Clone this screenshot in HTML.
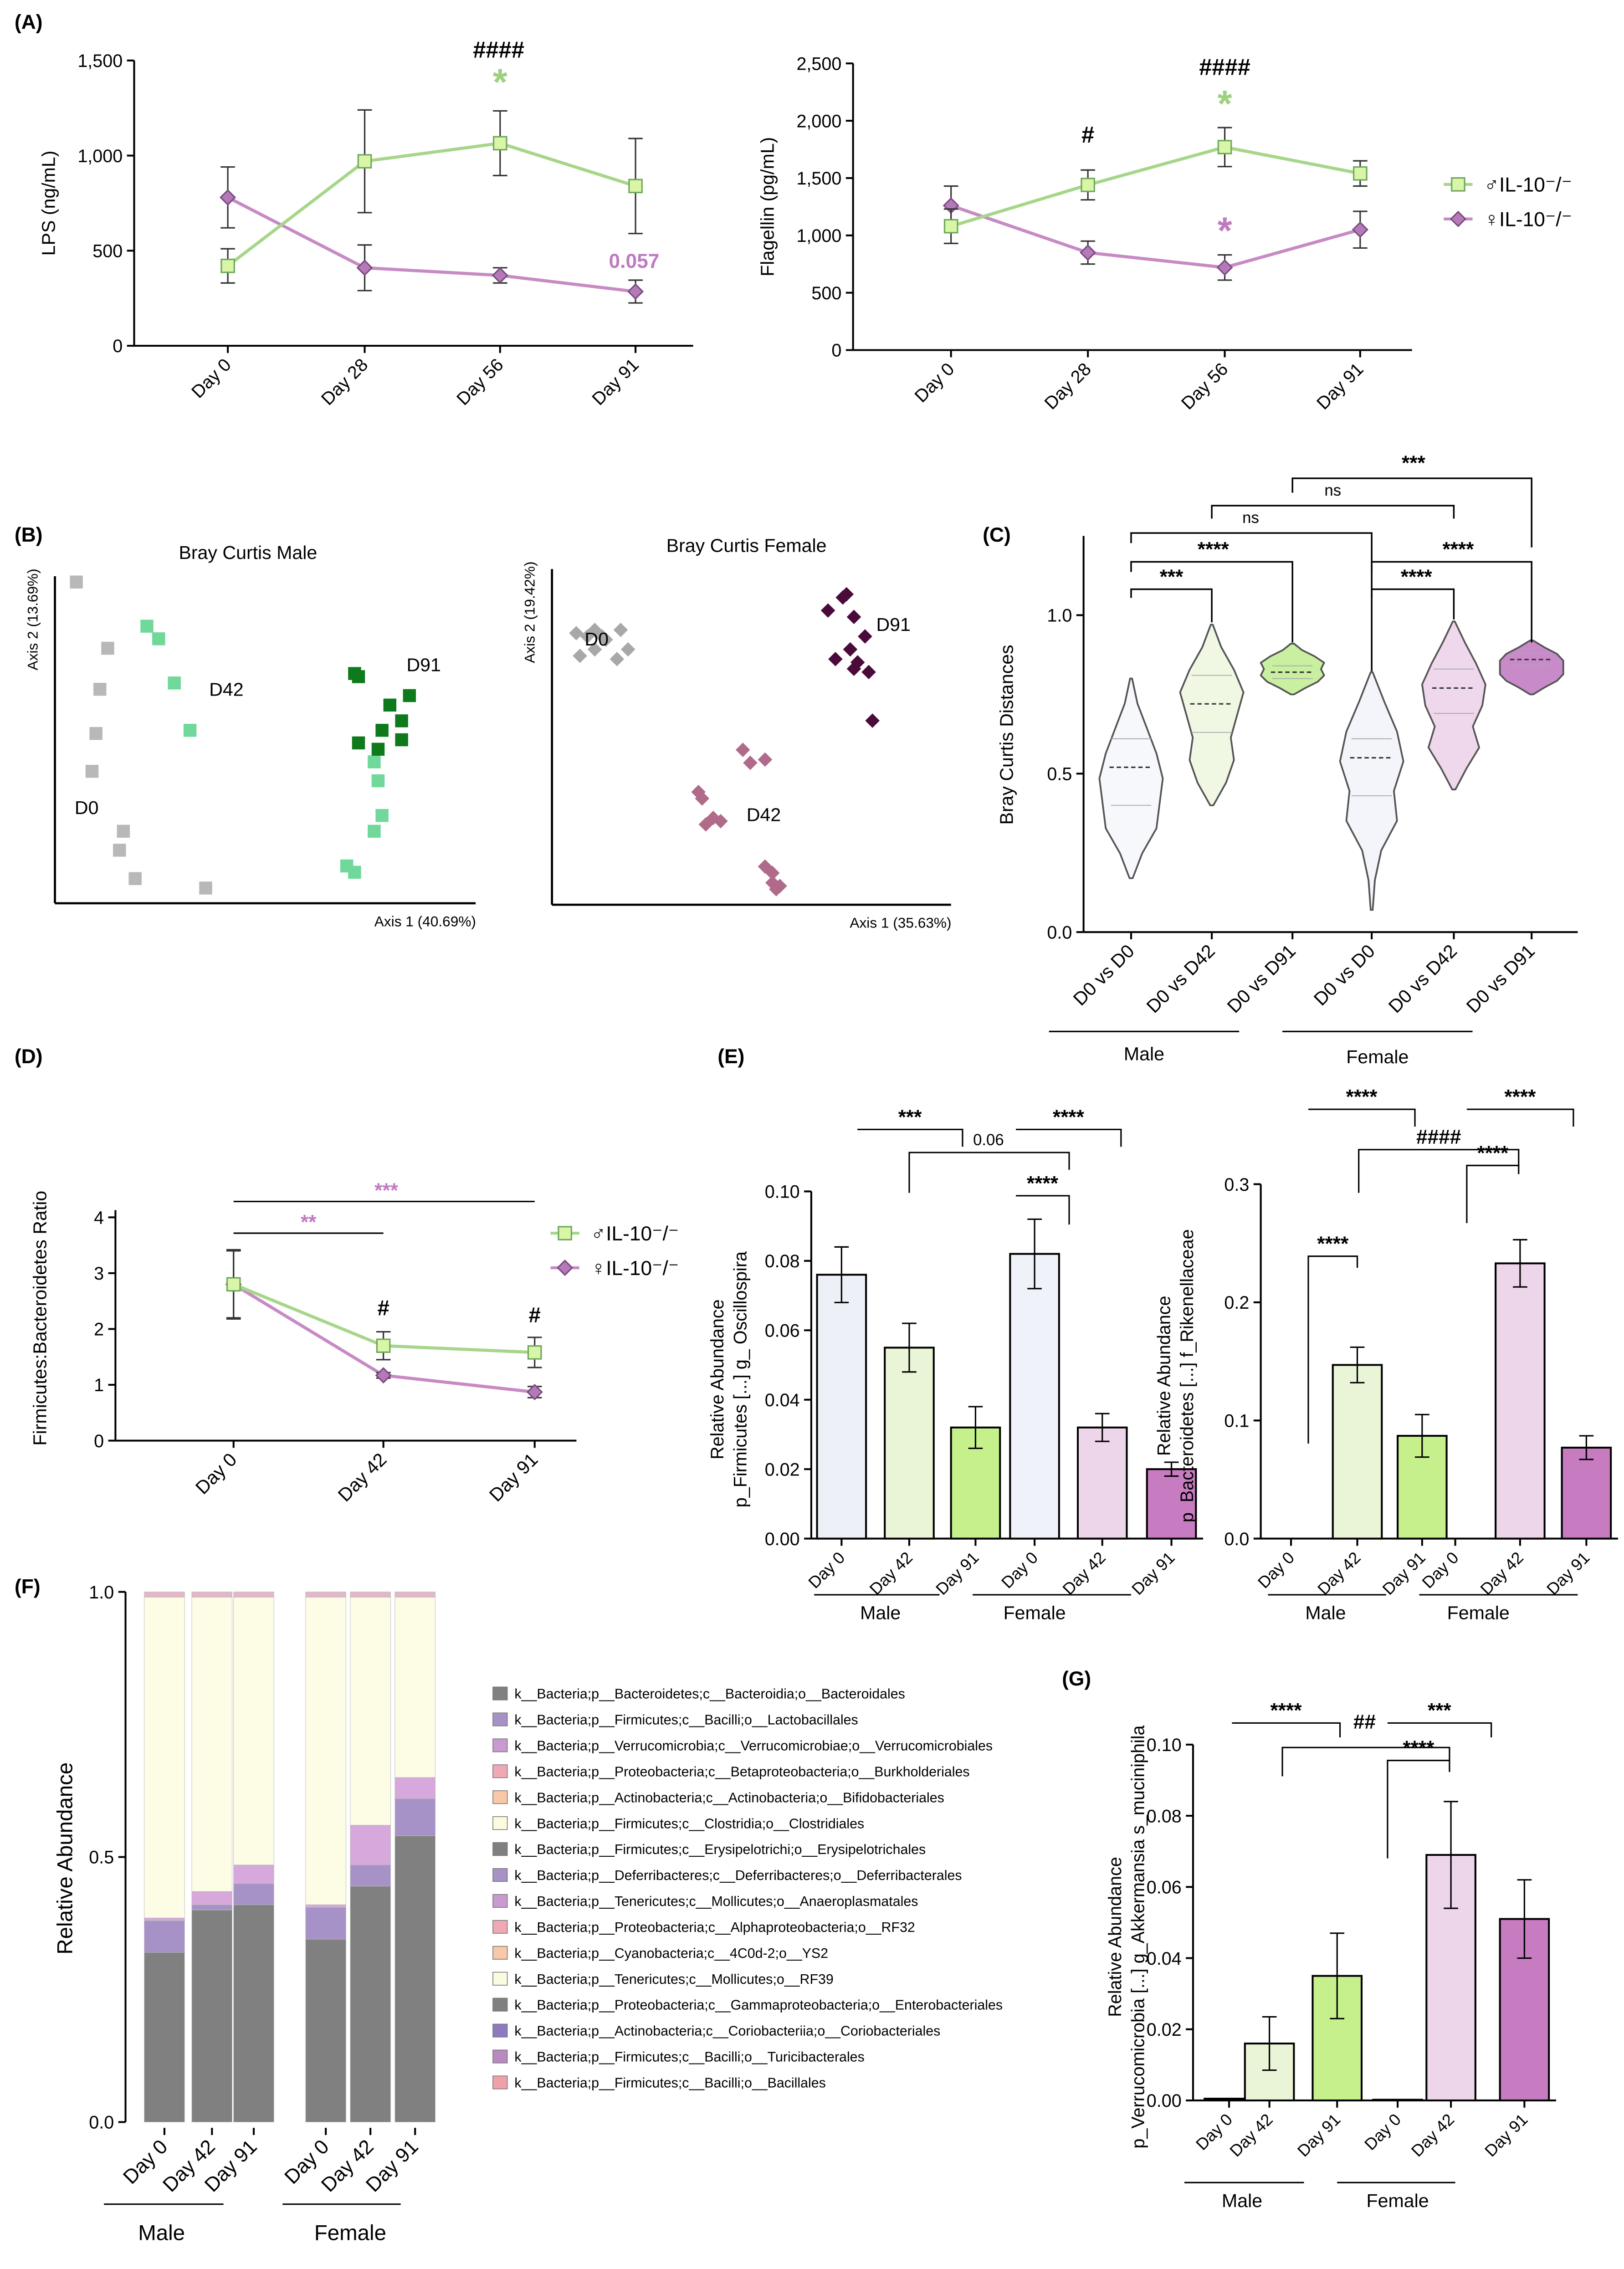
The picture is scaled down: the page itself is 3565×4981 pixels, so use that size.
<!DOCTYPE html>
<html><head><meta charset="utf-8"><style>
html,body{margin:0;padding:0;background:#fff}
svg{display:block;font-family:"Liberation Sans",Arial,sans-serif}
</style></head><body>
<svg id="fig" width="3565" height="4981" viewBox="0 0 1127 1575" xmlns="http://www.w3.org/2000/svg"></svg>
<script>
// ---------- DATA ----------
const days4 = ["Day 0","Day 28","Day 56","Day 91"];
const lpsMale = [420,970,1065,840];
const lpsMaleErr = [90,270,170,250];
const lpsFemale = [780,410,370,285];
const lpsFemaleErr = [160,120,40,60];
const lpsTicks = [0,500,1000,1500];
const flaMale = [1080,1440,1770,1540];
const flaMaleErr = [150,130,170,110];
const flaFemale = [1260,850,720,1050];
const flaFemaleErr = [170,100,110,160];
const flaTicks = [0,500,1000,1500,2000,2500];

const violinCats = ["D0 vs D0","D0 vs D42","D0 vs D91","D0 vs D0","D0 vs D42","D0 vs D91"];
const violinMin = [0.17,0.40,0.75,0.07,0.45,0.75];
const violinMax = [0.80,0.97,0.91,0.82,0.98,0.92];
const violinMedian = [0.52,0.72,0.82,0.55,0.77,0.86];
const violinQ1 = [0.40,0.63,0.80,0.43,0.69,0.84];
const violinQ3 = [0.61,0.81,0.84,0.61,0.83,0.88];
const violinWidth = [
 [0.05,0.35,0.8,0.9,1,0.8,0.5,0.2,0.03],
 [0.05,0.45,0.7,0.6,0.8,1,0.7,0.3,0.03],
 [0.05,0.4,0.8,1,0.9,1,0.7,0.3,0.05],
 [0.03,0.1,0.3,0.8,0.7,1,0.8,0.4,0.03],
 [0.05,0.4,0.8,0.6,0.9,1,0.7,0.35,0.03],
 [0.05,0.4,0.8,1,1,1,0.8,0.4,0.05]];
const violinTicks = [0.0,0.5,1.0];

const days3 = ["Day 0","Day 42","Day 91"];
const fbMale = [2.8,1.7,1.58];
const fbMaleErr = [0.62,0.25,0.27];
const fbFemale = [2.8,1.17,0.87];
const fbFemaleErr = [0.6,0.05,0.1];
const fbTicks = [0,1,2,3,4];

const barCats = ["Day 0","Day 42","Day 91","Day 0","Day 42","Day 91"];
const oscVals = [0.076,0.055,0.032,0.082,0.032,0.020];
const oscErr = [0.008,0.007,0.006,0.010,0.004,0.002];
const oscTicks = [0,0.02,0.04,0.06,0.08,0.10];
const rikVals = [0,0.147,0.087,0,0.233,0.077];
const rikErr = [0,0.015,0.018,0,0.02,0.01];
const rikTicks = [0,0.1,0.2,0.3];
const akkVals = [0.0005,0.016,0.035,0.0002,0.069,0.051];
const akkErr = [0,0.0075,0.012,0,0.015,0.011];
const akkTicks = [0,0.02,0.04,0.06,0.08,0.10];

const stackCats = ["Day 0","Day 42","Day 91","Day 0","Day 42","Day 91"];
const stBacteroidales = [0.32,0.40,0.41,0.345,0.445,0.54];
const stLactobacillales = [0.06,0.01,0.04,0.06,0.04,0.07];
const stVerruco = [0.005,0.025,0.035,0.005,0.075,0.04];
const stClostridiales = [0.605,0.555,0.505,0.58,0.43,0.34];
const stOther = [0.01,0.01,0.01,0.01,0.01,0.01];
const legendTaxa = [
"k__Bacteria;p__Bacteroidetes;c__Bacteroidia;o__Bacteroidales",
"k__Bacteria;p__Firmicutes;c__Bacilli;o__Lactobacillales",
"k__Bacteria;p__Verrucomicrobia;c__Verrucomicrobiae;o__Verrucomicrobiales",
"k__Bacteria;p__Proteobacteria;c__Betaproteobacteria;o__Burkholderiales",
"k__Bacteria;p__Actinobacteria;c__Actinobacteria;o__Bifidobacteriales",
"k__Bacteria;p__Firmicutes;c__Clostridia;o__Clostridiales",
"k__Bacteria;p__Firmicutes;c__Erysipelotrichi;o__Erysipelotrichales",
"k__Bacteria;p__Deferribacteres;c__Deferribacteres;o__Deferribacterales",
"k__Bacteria;p__Tenericutes;c__Mollicutes;o__Anaeroplasmatales",
"k__Bacteria;p__Proteobacteria;c__Alphaproteobacteria;o__RF32",
"k__Bacteria;p__Cyanobacteria;c__4C0d-2;o__YS2",
"k__Bacteria;p__Tenericutes;c__Mollicutes;o__RF39",
"k__Bacteria;p__Proteobacteria;c__Gammaproteobacteria;o__Enterobacteriales",
"k__Bacteria;p__Actinobacteria;c__Coriobacteriia;o__Coriobacteriales",
"k__Bacteria;p__Firmicutes;c__Bacilli;o__Turicibacterales",
"k__Bacteria;p__Firmicutes;c__Bacilli;o__Bacillales"];
const legendColors = ["#808080","#a792c8","#c99ad0","#f0a8b4","#f8c8a8","#fbfbe0","#808080","#a792c8","#c99ad0","#f0a8b4","#f8c8a8","#fbfbe0","#808080","#8f7ac0","#b88ac0","#f0a0a8"];

// PCoA points (axis units 0-100)
const maleD0X = [4,12,10,9,8,16,15,19,37];
const maleD0Y = [100,79,66,52,40,21,15,6,3];
const maleD42X = [22,25,29,33,80,81,82,80,73,75];
const maleD42Y = [86,82,68,53,43,37,26,21,10,8];
const maleD91X = [75,76,89,84,87,82,76,87,81];
const maleD91Y = [71,70,64,61,56,53,49,50,47];
const femD0X = [5,8,10,12,13,17,16,6,19,10];
const femD0Y = [82,81,83,81,80,83,74,75,77,77];
const femD42X = [38,39,42,44,40,50,52,56,56,58,60,58,59];
const femD42Y = [33,31,25,24,23,46,42,43,10,8,4,5,3];
const femD91X = [77,78,73,80,83,79,81,84,80,85,75];
const femD91Y = [93,94,89,87,81,77,73,70,71,55,74];

// ---------- HELPERS ----------
const svg = document.getElementById('fig');
const NS = "http://www.w3.org/2000/svg";
function el(tag, attrs, parent, text){
  const e = document.createElementNS(NS, tag);
  for (const k in attrs) e.setAttribute(k, attrs[k]);
  if (text !== undefined) e.textContent = text;
  (parent || svg).appendChild(e);
  return e;
}
function grp(name){
  const g = el('g', {});
  
  
  return g;
}
function txt(g, x, y, s, size, opts){
  opts = opts || {};
  const t = el('text', {x:x, y:y, 'font-size':size, 'text-anchor':opts.anchor||'middle', fill:opts.fill||'#000', 'font-weight':opts.bold?'bold':'normal'}, g, s);
  if (opts.rot !== undefined) t.setAttribute('transform', `rotate(${opts.rot} ${x} ${y})`);
  
  
  return t;
}
function line(g, x1, y1, x2, y2, w, c){
  return el('line', {x1:x1, y1:y1, x2:x2, y2:y2, stroke:c||'#000', 'stroke-width':w||1.2}, g);
}
function yAxis(g, x, y0, y1, ticks, scale, fmt, xEnd){
  line(g, x, y0, x, y1, 1.3);
  ticks.forEach(t => {
    const y = scale(t);
    line(g, x-5, y, x, y, 1.3);
    txt(g, x-8, y+4.5, fmt(t), 12.5, {anchor:'end', name:'y-tick-label'});
  });
  if (xEnd) line(g, x, y0, xEnd, y0, 1.3);
}
function xTicks(g, xs, y, labels, size){
  xs.forEach((x,i) => {
    line(g, x, y, x, y+5, 1.3);
    txt(g, x+3, y+14, labels[i], size||12.5, {anchor:'end', rot:-45, name:'x-tick-label'});
  });
}
function errBar(g, x, y1, y2, c){
  line(g, x, y1, x, y2, 1, c||'#333');
  line(g, x-5, y1, x+5, y1, 1, c||'#333');
  line(g, x-5, y2, x+5, y2, 1, c||'#333');
}
function bracket(g, x1, x2, y, d1, d2, label, size, color){
  el('path', {d:`M${x1} ${y+d1} L${x1} ${y} L${x2} ${y} L${x2} ${y+d2}`, fill:'none', stroke:color||'#000', 'stroke-width':1}, g);
  if (label) txt(g, (x1+x2)/2, y-4, label, size||14, {bold:true, fill:color||'#000', name:'significance-label'});
}
function square(g, x, y, s, fill, stroke){
  const r = el('rect', {x:x-s/2, y:y-s/2, width:s, height:s, fill:fill, stroke:stroke||'none', 'stroke-width':1}, g);
  
  
  return r;
}
function diamond(g, x, y, s, fill, stroke){
  const p = el('path', {d:`M${x} ${y-s} L${x+s} ${y} L${x} ${y+s} L${x-s} ${y} Z`, fill:fill, stroke:stroke||'none', 'stroke-width':1}, g);
  
  
  return p;
}
const GL = '#a6d68a', GF = '#d9f5a8', GS = '#6fa85a';
const PL = '#c78ac4', PF = '#b47ab8', PS = '#7a4a80';

// panel labels
[["(A)",10,20],["(B)",10,376],["(C)",682,376],["(D)",10,738],["(E)",498,738],["(F)",10,1106],["(G)",737,1170]].forEach(p=>{
  const g = grp('panel-label'); txt(g, p[1], p[2], p[0], 14, {anchor:'start', bold:true, name:'panel-label'});
});

// ---------- A: line charts ----------
function lineChart(name, ax, y0, yTop, maxV, ticks, xs, cats, m, me, f, fe, ylabel, ylx){
  const g = grp(name);
  const sy = v => y0 - (v/maxV)*(y0-yTop);
  yAxis(g, ax, y0, yTop, ticks, sy, t=>t.toLocaleString('en-US'), ax+388);
  xTicks(g, xs, y0, cats);
  txt(g, ylx, (y0+yTop)/2, ylabel, 13, {rot:-90, name:'y-axis-title'});
  el('polyline', {points:xs.map((x,i)=>x+','+sy(f[i])).join(' '), fill:'none', stroke:PL, 'stroke-width':2.2}, g);
  el('polyline', {points:xs.map((x,i)=>x+','+sy(m[i])).join(' '), fill:'none', stroke:GL, 'stroke-width':2.2}, g);
  xs.forEach((x,i)=>{ errBar(g, x, sy(f[i]-fe[i]), sy(f[i]+fe[i])); diamond(g, x, sy(f[i]), 5, PF, PS); });
  xs.forEach((x,i)=>{ errBar(g, x, sy(m[i]-me[i]), sy(m[i]+me[i])); square(g, x, sy(m[i]), 9, GF, GS); });
  return g;
}
const gA1 = lineChart('lps-chart', 93, 240, 42, 1500, lpsTicks, [158,253,347,441], days4, lpsMale, lpsMaleErr, lpsFemale, lpsFemaleErr, 'LPS (ng/mL)', 38);
txt(gA1, 346, 40, '####', 16, {bold:true});
txt(gA1, 347, 66, '*', 26, {bold:true, fill:'#9fd07f'});
txt(gA1, 440, 186, '0.057', 14, {bold:true, fill:'#c07ac0'});
const gA2 = lineChart('flagellin-chart', 592, 243, 44, 2500, flaTicks, [660,755,850,944], days4, flaMale, flaMaleErr, flaFemale, flaFemaleErr, 'Flagellin (pg/mL)', 537);
txt(gA2, 755, 99, '#', 16, {bold:true});
txt(gA2, 850, 52, '####', 16, {bold:true});
txt(gA2, 850, 81, '*', 26, {bold:true, fill:'#9fd07f'});
txt(gA2, 850, 169, '*', 26, {bold:true, fill:'#c07ac0'});
function legend2(x, y, name){
  const g = grp(name);
  line(g, x-10, y, x+10, y, 2, GL); square(g, x, y, 9, GF, GS);
  txt(g, x+18, y+5, '♂IL-10⁻/⁻', 14, {anchor:'start', name:'legend-male'});
  line(g, x-10, y+24, x+10, y+24, 2, PL); diamond(g, x, y+24, 5, PF, PS);
  txt(g, x+18, y+29, '♀IL-10⁻/⁻', 14, {anchor:'start', name:'legend-female'});
}
legend2(1012, 128, 'legend-a');

// ---------- B: PCoA ----------
function pcoa(name, x0, y0, x1, y1, title, tx, xlab, ylab, sets){
  const g = grp(name);
  line(g, x0, y1, x0, y0, 1.5); line(g, x0, y0, x1, y0, 1.5);
  txt(g, tx, y1-12, title, 13, {name:'pcoa-title'});
  txt(g, x1-35, y0+16, xlab, 10, {name:'x-axis-title'});
  txt(g, x0-12, y1+30, ylab, 10, {rot:-90, name:'y-axis-title'});
  const sx = v => x0 + 4 + v/100*(x1-x0-20), sy = v => y0 - 4 - v/100*(y0-y1-8);
  sets.forEach(s => s.xs.forEach((v,i)=>{
    if (s.shape==='sq') square(g, sx(v), sy(s.ys[i]), 9, s.c); else diamond(g, sx(v), sy(s.ys[i]), 5, s.c);
  }));
  return g;
}
const gB1 = pcoa('bray-curtis-male', 38, 627, 330, 400, 'Bray Curtis Male', 172, 'Axis 1 (40.69%)', 'Axis 2 (13.69%)', [
 {xs:maleD0X, ys:maleD0Y, c:'#b8b8b8', shape:'sq'},{xs:maleD42X, ys:maleD42Y, c:'#6fd89a', shape:'sq'},{xs:maleD91X, ys:maleD91Y, c:'#0f7a1c', shape:'sq'}]);
txt(gB1, 157, 483, 'D42', 13); txt(gB1, 60, 565, 'D0', 13); txt(gB1, 294, 466, 'D91', 13);
const gB2 = pcoa('bray-curtis-female', 383, 628, 660, 395, 'Bray Curtis Female', 518, 'Axis 1 (35.63%)', 'Axis 2 (19.42%)', [
 {xs:femD0X, ys:femD0Y, c:'#a8a8a8', shape:'d'},{xs:femD42X, ys:femD42Y, c:'#b06a8a', shape:'d'},{xs:femD91X, ys:femD91Y, c:'#4a0a3a', shape:'d'}]);
txt(gB2, 414, 448, 'D0', 13); txt(gB2, 530, 570, 'D42', 13); txt(gB2, 620, 438, 'D91', 13);

// ---------- C: violins ----------
(function(){
  const g = grp('violin-chart');
  const y0 = 647, yT = 427;
  const sy = v => y0 - v*(y0-yT);
  const xs = [785,841,897,952,1009,1063];
  yAxis(g, 752, y0, 372, violinTicks, sy, t=>t.toFixed(1), 1095);
  xTicks(g, xs, y0, violinCats, 13);
  txt(g, 703, 510, 'Bray Curtis Distances', 13, {rot:-90, name:'y-axis-title'});
  const fills = ['#f7f8fc','#f0f8e4','#c8f0a0','#f4f5fa','#efd7ec','#c88ac8'];
  xs.forEach((x,i)=>{
    const w = violinWidth[i], n = w.length, half = 22;
    const pts = [];
    for (let k=0;k<n;k++){ const v = violinMin[i] + (violinMax[i]-violinMin[i])*k/(n-1); pts.push([x + w[k]*half, sy(v)]); }
    const left = pts.slice().reverse().map(p=>[2*x-p[0], p[1]]);
    const p = el('path', {d:'M'+pts.concat(left).map(q=>q[0].toFixed(1)+' '+q[1].toFixed(1)).join(' L')+' Z', fill:fills[i], stroke:'#555', 'stroke-width':1.2, 'stroke-linejoin':'round'}, g);
     
    line(g, x-15, sy(violinMedian[i]), x+15, sy(violinMedian[i]), 1, '#333').setAttribute('stroke-dasharray','3 2');
    line(g, x-14, sy(violinQ1[i]), x+14, sy(violinQ1[i]), 0.6, '#aaa');
    line(g, x-14, sy(violinQ3[i]), x+14, sy(violinQ3[i]), 0.6, '#aaa');
  });
  const P = d => el('path', {d:d, fill:'none', stroke:'#000', 'stroke-width':1.1}, g);
  P('M897 342 L897 332 L1063 332 L1063 380'); txt(g, 981, 326, '***', 14, {bold:true});
  P('M841 360 L841 351 L1009 351 L1009 360'); txt(g, 925, 344, 'ns', 11);
  P('M785 377 L785 370 L952 370 L952 466'); txt(g, 868, 363, 'ns', 11);
  P('M785 397 L785 390 L897 390 L897 446'); txt(g, 842, 386, '****', 14, {bold:true});
  P('M785 415 L785 409 L841 409 L841 432'); txt(g, 813, 405, '***', 14, {bold:true});
  P('M952 397 L952 390 L1063 390 L1063 446'); txt(g, 1012, 386, '****', 14, {bold:true});
  P('M952 415 L952 409 L1009 409 L1009 430'); txt(g, 983, 405, '****', 14, {bold:true});
  line(g, 728, 716, 860, 716, 1); txt(g, 794, 736, 'Male', 13);
  line(g, 890, 716, 1022, 716, 1); txt(g, 956, 738, 'Female', 13);
})();

// ---------- D: F:B ratio ----------
(function(){
  const g = grp('fb-ratio-chart');
  const y0 = 1000, sy = v => y0 - v*38.75, xs = [162,266,371];
  yAxis(g, 80, y0, 840, fbTicks, sy, t=>String(t), 400);
  xTicks(g, xs, y0, days3, 13);
  txt(g, 32, 915, 'Firmicutes:Bacteroidetes Ratio', 13, {rot:-90, name:'y-axis-title'});
  el('polyline', {points:xs.map((x,i)=>x+','+sy(fbFemale[i])).join(' '), fill:'none', stroke:PL, 'stroke-width':2.2}, g);
  el('polyline', {points:xs.map((x,i)=>x+','+sy(fbMale[i])).join(' '), fill:'none', stroke:GL, 'stroke-width':2.2}, g);
  xs.forEach((x,i)=>{ errBar(g, x, sy(fbFemale[i]-fbFemaleErr[i]), sy(fbFemale[i]+fbFemaleErr[i])); diamond(g, x, sy(fbFemale[i]), 5, PF, PS); });
  xs.forEach((x,i)=>{ errBar(g, x, sy(fbMale[i]-fbMaleErr[i]), sy(fbMale[i]+fbMaleErr[i])); square(g, x, sy(fbMale[i]), 9, GF, GS); });
  line(g, 162, 856, 266, 856, 1); txt(g, 214, 853, '**', 14, {bold:true, fill:'#c07ac0'});
  line(g, 162, 834, 371, 834, 1); txt(g, 268, 831, '***', 14, {bold:true, fill:'#c07ac0'});
  txt(g, 266, 913, '#', 15, {bold:true}); txt(g, 371, 918, '#', 15, {bold:true});
})();
legend2(392, 856, 'legend-d');

// ---------- bar charts ----------
const barFills = ['#eef0f8','#eaf5d8','#c5f08b','#f0f2fa','#edd5ea','#c77bc0'];
function barChart(name, ax, y0, yT, maxV, ticks, fmt, xs, vals, errs, l1, l2, l1x){
  const g = grp(name);
  const sy = v => y0 - v/maxV*(y0-yT);
  yAxis(g, ax, y0, yT, ticks, sy, fmt, xs[5]+22);
  xTicks(g, xs, y0, barCats, 11.5);
  txt(g, l1x, (y0+yT)/2+10, l1, 12.5, {rot:-90, name:'y-axis-title'});
  txt(g, l1x+16, (y0+yT)/2+10, l2, 12.5, {rot:-90, name:'y-axis-title'});
  xs.forEach((x,i)=>{
    const r = el('rect', {x:x-17, y:sy(vals[i]), width:34, height:y0-sy(vals[i]), fill:barFills[i], stroke:'#000', 'stroke-width':1.3}, g);
     
    if (errs[i]>0) errBar(g, x, sy(vals[i]-errs[i]), sy(vals[i]+errs[i]), '#000');
  });
  return g;
}
const gE1 = barChart('oscillospira-chart', 563, 1068, 827, 0.10, oscTicks, t=>t.toFixed(2), [584,631,677,718,765,813], oscVals, oscErr, 'Relative Abundance', 'p_Firmicutes [...] g_ Oscillospira', 502);
bracket(gE1, 595, 668, 784, 0, 12, '***');
bracket(gE1, 631, 742, 800, 28, 12, ''); txt(gE1, 686, 795, '0.06', 11);
bracket(gE1, 705, 778, 784, 0, 12, '****');
bracket(gE1, 705, 742, 830, 0, 20, '****');
line(gE1, 565, 1107, 652, 1107, 1); txt(gE1, 611, 1124, 'Male', 13);
line(gE1, 675, 1107, 785, 1107, 1); txt(gE1, 718, 1124, 'Female', 13);

const gE2 = barChart('rikenellaceae-chart', 875, 1068, 822, 0.3, rikTicks, t=>t.toFixed(1), [896,942,987,1010,1055,1101], rikVals, rikErr, 'Relative Abundance', 'p_Bacteroidetes [...] f_Rikenellaceae', 812);
bracket(gE2, 908, 982, 770, 0, 12, '****');
bracket(gE2, 943, 1054, 798, 30, 12, '####');
bracket(gE2, 1018, 1092, 770, 0, 12, '****');
bracket(gE2, 1018, 1054, 809, 40, 6, '****');
bracket(gE2, 908, 942, 872, 130, 8, '****');
line(gE2, 880, 1107, 962, 1107, 1); txt(gE2, 920, 1124, 'Male', 13);
line(gE2, 985, 1107, 1095, 1107, 1); txt(gE2, 1026, 1124, 'Female', 13);

const gG = barChart('akkermansia-chart', 828, 1458, 1211, 0.10, akkTicks, t=>t.toFixed(2), [853,881,928,970,1007,1058], akkVals, akkErr, 'Relative Abundance', 'p_Verrucomicrobia [...] g_Akkermansia s_muciniphila', 778);
bracket(gG, 855, 930, 1196, 0, 10, '****');
bracket(gG, 890, 1006, 1213, 20, 10, ''); txt(gG, 947, 1200, '##', 14, {bold:true});
bracket(gG, 963, 1035, 1196, 0, 10, '***');
bracket(gG, 963, 1006, 1222, 68, 8, '****');
line(gG, 822, 1515, 905, 1515, 1); txt(gG, 862, 1532, 'Male', 13);
line(gG, 928, 1515, 1010, 1515, 1); txt(gG, 970, 1532, 'Female', 13);

// ---------- F: stacked ----------
(function(){
  const g = grp('stacked-abundance-chart');
  const y0 = 1473, yT = 1105, sy = v => y0 - v*(y0-yT);
  const xs = [114,147,176,226,257,288];
  yAxis(g, 87, y0, yT, [0,0.5,1.0], sy, t=>t.toFixed(1));
  xTicks(g, xs, y0+4, stackCats, 14);
  txt(g, 50, 1290, 'Relative Abundance', 15, {rot:-90, name:'y-axis-title'});
  const layers = [[stBacteroidales,'#808080'],[stLactobacillales,'#a792c8'],[stVerruco,'#d6a8dc'],[stClostridiales,'#fdfde6'],[stOther,'#e2b8c8']];
  xs.forEach((x,i)=>{
    let acc = 0;
    layers.forEach(L=>{
      const v = L[0][i];
      const r = el('rect', {x:x-14, y:sy(acc+v), width:28, height:sy(acc)-sy(acc+v), fill:L[1], stroke:'#bbb', 'stroke-width':0.3}, g);
       
      acc += v;
    });
  });
  line(g, 72, 1530, 155, 1530, 1); txt(g, 112, 1555, 'Male', 15);
  line(g, 196, 1530, 278, 1530, 1); txt(g, 243, 1555, 'Female', 15);
  const lg = grp('taxa-legend');
  legendTaxa.forEach((s,i)=>{
    const y = 1179 + i*18;
    const r = el('rect', {x:342, y:y-8, width:10, height:9, fill:legendColors[i], stroke:'#777', 'stroke-width':0.5}, lg);
     
    txt(lg, 357, y, s, 9.6, {anchor:'start', name:'legend-entry'});
  });
})();
</script>
</body></html>
